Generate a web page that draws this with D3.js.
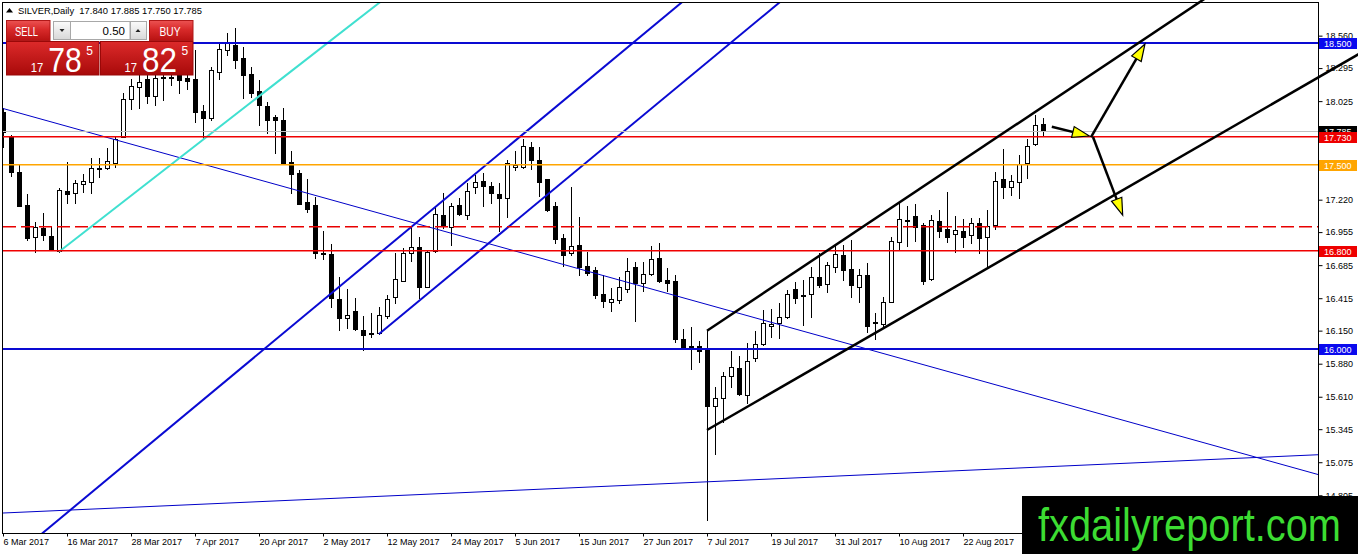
<!DOCTYPE html>
<html>
<head>
<meta charset="utf-8">
<script src="https://cdn.jsdelivr.net/npm/d3@7"></script>
<style>
body { margin:0; background:#fff; }
svg { display:block; font-family:"Liberation Sans", Arial, sans-serif; }
</style>
</head>
<body>
<div id="chart"></div>
<script>
// SILVER, Daily  (MT4 style chart)
var dates = [
 "6 Mar 2017","7 Mar 2017","8 Mar 2017","9 Mar 2017","10 Mar 2017","13 Mar 2017","14 Mar 2017","15 Mar 2017","16 Mar 2017","17 Mar 2017",
 "20 Mar 2017","21 Mar 2017","22 Mar 2017","23 Mar 2017","24 Mar 2017","27 Mar 2017","28 Mar 2017","29 Mar 2017","30 Mar 2017","31 Mar 2017",
 "3 Apr 2017","4 Apr 2017","5 Apr 2017","6 Apr 2017","7 Apr 2017","10 Apr 2017","11 Apr 2017","12 Apr 2017","13 Apr 2017","17 Apr 2017",
 "18 Apr 2017","19 Apr 2017","20 Apr 2017","21 Apr 2017","24 Apr 2017","25 Apr 2017","26 Apr 2017","27 Apr 2017","28 Apr 2017",
 "1 May 2017","2 May 2017","3 May 2017","4 May 2017","5 May 2017","8 May 2017","9 May 2017","10 May 2017","11 May 2017","12 May 2017",
 "15 May 2017","16 May 2017","17 May 2017","18 May 2017","19 May 2017","22 May 2017","23 May 2017","24 May 2017","25 May 2017","26 May 2017",
 "29 May 2017","30 May 2017","31 May 2017",
 "1 Jun 2017","2 Jun 2017","5 Jun 2017","6 Jun 2017","7 Jun 2017","8 Jun 2017","9 Jun 2017","12 Jun 2017","13 Jun 2017","14 Jun 2017",
 "15 Jun 2017","16 Jun 2017","19 Jun 2017","20 Jun 2017","21 Jun 2017","22 Jun 2017","23 Jun 2017","26 Jun 2017","27 Jun 2017","28 Jun 2017",
 "29 Jun 2017","30 Jun 2017",
 "3 Jul 2017","4 Jul 2017","5 Jul 2017","6 Jul 2017","7 Jul 2017","10 Jul 2017","11 Jul 2017","12 Jul 2017","13 Jul 2017","14 Jul 2017",
 "17 Jul 2017","18 Jul 2017","19 Jul 2017","20 Jul 2017","21 Jul 2017","24 Jul 2017","25 Jul 2017","26 Jul 2017","27 Jul 2017","28 Jul 2017",
 "31 Jul 2017",
 "1 Aug 2017","2 Aug 2017","3 Aug 2017","4 Aug 2017","7 Aug 2017","8 Aug 2017","9 Aug 2017","10 Aug 2017","11 Aug 2017","14 Aug 2017",
 "15 Aug 2017","16 Aug 2017","17 Aug 2017","18 Aug 2017","21 Aug 2017","22 Aug 2017","23 Aug 2017","24 Aug 2017","25 Aug 2017","28 Aug 2017",
 "29 Aug 2017","30 Aug 2017","31 Aug 2017",
 "1 Sep 2017","4 Sep 2017","5 Sep 2017"
];

var opens = [
 17.936,17.740,17.446,17.176,16.912,16.991,16.923,16.803,17.291,17.272,
 17.348,17.367,17.481,17.476,17.522,17.734,18.040,18.143,18.203,18.067,
 18.215,18.214,18.280,18.214,18.203,17.947,17.889,18.265,18.442,18.483,
 18.375,18.246,18.110,17.985,17.893,17.871,17.530,17.440,17.201,17.176,
 16.782,16.776,16.406,16.251,16.310,16.155,16.130,16.128,16.272,16.427,
 16.558,16.786,16.831,16.509,16.803,17.094,16.999,17.176,17.094,17.321,
 17.372,17.331,17.266,17.231,17.489,17.489,17.652,17.544,17.386,17.168,
 16.909,16.782,16.849,16.678,16.645,16.449,16.386,16.400,16.487,16.667,
 16.536,16.612,16.741,16.563,16.558,16.079,16.024,16.027,15.997,15.534,
 15.597,15.779,15.842,15.624,15.924,16.041,16.188,16.210,16.259,16.487,
 16.441,16.449,16.585,16.531,16.667,16.768,16.651,16.509,16.604,16.220,
 16.204,16.386,16.876,17.054,17.086,17.013,16.569,17.048,16.978,16.937,
 16.966,16.931,17.032,16.912,17.013,17.386,17.326,17.362,17.517,17.672,
 17.840
];
var highs = [
 17.969,17.748,17.511,17.266,17.040,17.111,17.007,17.313,17.530,17.380,
 17.429,17.563,17.558,17.639,17.740,18.089,18.203,18.238,18.252,18.279,
 18.260,18.250,18.320,18.250,18.442,17.993,18.306,18.497,18.581,18.620,
 18.469,18.306,18.197,18.015,17.911,17.966,17.620,17.462,17.391,17.244,
 16.964,16.855,16.590,16.490,16.414,16.269,16.296,16.345,16.441,16.782,
 16.827,16.999,16.917,16.803,17.168,17.272,17.195,17.231,17.353,17.421,
 17.440,17.367,17.353,17.544,17.620,17.713,17.693,17.648,17.389,17.203,
 16.937,17.321,17.076,16.795,16.672,16.604,16.496,16.590,16.746,16.713,
 16.713,16.841,16.863,16.659,16.604,16.161,16.182,16.068,16.149,15.692,
 15.814,15.986,15.942,16.046,16.149,16.318,16.324,16.373,16.482,16.550,
 16.563,16.672,16.786,16.713,16.849,16.849,16.890,16.651,16.705,16.291,
 16.427,16.917,17.190,17.168,17.184,17.027,17.094,17.136,17.285,17.086,
 17.059,17.067,17.067,17.136,17.448,17.631,17.421,17.585,17.713,17.911,
 17.885
];
var lows = [
 17.650,17.416,17.168,16.890,16.795,16.890,16.808,16.795,17.195,17.190,
 17.285,17.277,17.402,17.468,17.484,17.729,17.958,17.966,18.007,17.993,
 18.034,18.157,18.094,18.124,17.857,17.721,17.871,18.206,18.402,18.295,
 18.050,18.061,17.830,17.762,17.599,17.511,17.277,17.184,17.121,16.741,
 16.733,16.345,16.155,16.169,16.155,15.991,16.100,16.122,16.251,16.378,
 16.555,16.721,16.414,16.504,16.795,16.986,16.849,17.094,17.059,17.277,
 17.168,17.195,16.966,17.081,17.462,17.476,17.468,17.250,17.130,16.868,
 16.678,16.768,16.604,16.604,16.414,16.345,16.313,16.378,16.468,16.231,
 16.476,16.604,16.550,16.476,16.059,15.997,15.834,15.896,14.603,15.142,
 15.406,15.687,15.624,15.556,15.904,16.032,16.100,16.087,16.251,16.373,
 16.196,16.259,16.509,16.468,16.631,16.563,16.422,16.386,16.141,16.079,
 16.169,16.380,16.808,16.841,16.885,16.531,16.565,16.917,16.876,16.795,
 16.831,16.868,16.782,16.672,16.978,17.231,17.258,17.231,17.394,17.666,
 17.750
];
var closes = [
 17.773,17.448,17.170,16.907,16.994,16.931,16.812,17.299,17.264,17.353,
 17.372,17.476,17.468,17.536,17.715,18.040,18.148,18.184,18.067,18.211,
 18.222,18.220,18.200,18.192,17.938,17.884,18.279,18.448,18.510,18.361,
 18.238,18.094,17.993,17.871,17.875,17.522,17.429,17.188,17.141,16.782,
 16.773,16.414,16.251,16.277,16.161,16.114,16.122,16.277,16.408,16.569,
 16.786,16.835,16.509,16.795,17.100,17.005,17.168,17.100,17.291,17.367,
 17.334,17.272,17.236,17.517,17.503,17.658,17.544,17.367,17.132,16.898,
 16.768,16.844,16.672,16.618,16.441,16.394,16.406,16.504,16.639,16.536,
 16.612,16.733,16.558,16.541,16.079,16.018,16.016,15.986,15.534,15.597,
 15.779,15.850,15.632,15.904,16.041,16.215,16.204,16.259,16.447,16.419,
 16.429,16.590,16.523,16.686,16.776,16.645,16.523,16.604,16.188,16.212,
 16.386,16.885,17.059,17.043,16.999,16.558,17.054,16.966,16.912,16.972,
 16.917,17.027,16.904,17.005,17.372,17.326,17.372,17.509,17.658,17.830,
 17.785
];

var xTicks = ["6 Mar 2017","16 Mar 2017","28 Mar 2017","7 Apr 2017","20 Apr 2017","2 May 2017","12 May 2017",
  "24 May 2017","5 Jun 2017","15 Jun 2017","27 Jun 2017","7 Jul 2017","19 Jul 2017","31 Jul 2017","10 Aug 2017",
  "22 Aug 2017"];
var yTicks = [18.560,18.295,18.025,17.755,17.490,17.220,16.955,16.685,16.415,16.150,15.880,15.610,15.345,15.075,14.805];

// horizontal objects (prices)
var levelPrices = [18.500, 17.785, 17.730, 17.500, 16.995, 16.800, 16.000];
// trend lines: two anchors each [bar, price]
var trendFrom = [[0,14.660],[0,17.965],[5,14.499],[47,16.122],[7,16.795],[88,16.149],[88,15.338]];
var trendTo   = [[164,15.135],[161,15.036],[65,17.755],[97,18.828],[27,17.811],[118,17.457],[128,16.846]];
// hand drawn arrows [bar, price]
var arrowFrom = [[131.1,17.816],[136.0,17.732],[136.25,17.732]];
var arrowTo   = [[135.8,17.740],[142.75,18.492],[139.96,17.094]];

var W = 1358, H = 554;
var L = 3, R = 1318, T = 3, B = 533;

var svg = d3.select("#chart").append("svg").attr("width", W).attr("height", H);
svg.append("rect").attr("width", W).attr("height", H).attr("fill", "#fff");

var defs = svg.append("defs");
defs.append("clipPath").attr("id", "plotclip").append("rect")
  .attr("x", L).attr("y", T).attr("width", R - L).attr("height", B - T);
function grad(id, stops) {
  var g = defs.append("linearGradient").attr("id", id).attr("x1", 0).attr("y1", 0).attr("x2", 0).attr("y2", 1);
  stops.forEach(function(s) { g.append("stop").attr("offset", s[0]).attr("stop-color", s[1]); });
}
grad("btnRed", [[0, "#ec5252"], [0.45, "#d82a2a"], [1, "#b81212"]]);
grad("priceRed", [[0, "#dc2a2a"], [1, "#a80a0a"]]);
grad("btnGray", [[0, "#fbfbfb"], [1, "#d8d8d8"]]);

var x = d3.scaleLinear().domain([0, 130]).range([3, 1043]);
var y = d3.scaleLinear().domain([16.0, 18.5]).range([349, 43]);

var candles = dates.map(function(d, i) {
  return {i: i, date: d, o: opens[i], h: highs[i], l: lows[i], c: closes[i]};
});

var plot = svg.append("g").attr("clip-path", "url(#plotclip)");

var cg = plot.selectAll("g.candle").data(candles).enter().append("g").attr("class", "candle");
cg.append("line")
  .attr("x1", function(d) { return Math.round(x(d.i)) + 0.5; })
  .attr("x2", function(d) { return Math.round(x(d.i)) + 0.5; })
  .attr("y1", function(d) { return Math.round(y(d.h)); })
  .attr("y2", function(d) { return Math.round(y(d.l)) + 1; })
  .attr("stroke", "#000");
cg.append("rect")
  .attr("x", function(d) { return Math.round(x(d.i)) - 1.5; })
  .attr("y", function(d) { return Math.round(y(Math.max(d.o, d.c))) + 0.5; })
  .attr("width", 4)
  .attr("height", function(d) {
    return Math.max(0.01, Math.round(y(Math.min(d.o, d.c))) - Math.round(y(Math.max(d.o, d.c))));
  })
  .attr("fill", function(d) { return d.c >= d.o ? "#fff" : "#000"; })
  .attr("stroke", "#000");

// trend lines
var trendStyle = [
  {c: "#0000c8", w: 1, ray: false}, {c: "#0000c8", w: 1, ray: false},
  {c: "#0a0ad2", w: 2, ray: false}, {c: "#0a0ad2", w: 2, ray: true},
  {c: "#40e0d0", w: 2, ray: true},
  {c: "#000", w: 2.5, ray: true}, {c: "#000", w: 2.5, ray: true}
];
function priceAt(k, i) {
  var a = trendFrom[k], b = trendTo[k];
  return a[1] + (b[1] - a[1]) * (i - a[0]) / (b[0] - a[0]);
}
var blackG = svg.append("g");
trendFrom.forEach(function(a, k) {
  var s = trendStyle[k];
  var i0 = s.ray ? a[0] : -10, i1 = 200;
  var target = k >= 5 ? blackG : plot;
  target.append("line")
    .attr("x1", x(i0)).attr("y1", y(priceAt(k, i0)))
    .attr("x2", x(i1)).attr("y2", y(priceAt(k, i1)))
    .attr("stroke", s.c).attr("stroke-width", s.w);
});

// horizontal levels
var levelStyle = [
  {c: "#0a0ad2", w: 2, box: "#0a0aee"},
  {c: "#c0c0c0", w: 1, box: "#000"},
  {c: "#f00000", w: 1.5, box: "#ee0000"},
  {c: "#ffa500", w: 1.5, box: "#ffa500"},
  {c: "#e80000", w: 1.5, box: null, dash: "13,5"},
  {c: "#f00000", w: 1.5, box: "#ee0000"},
  {c: "#0a0ad2", w: 2, box: "#0a0aee"}
];
levelPrices.forEach(function(p, k) {
  var s = levelStyle[k];
  var yy = Math.round(y(p));
  if (s.w === 1) yy += 0.5;
  else if (s.w === 1.5) yy = yy - (yy % 2) + 0.75;   // keep thin coloured lines on one pixel pair
  plot.append("line").attr("x1", L).attr("x2", R).attr("y1", yy).attr("y2", yy)
    .attr("stroke", s.c).attr("stroke-width", s.w).attr("stroke-dasharray", s.dash || null);
});

// frame
svg.append("rect").attr("x", L - 0.5).attr("y", T - 0.5).attr("width", R - L + 1).attr("height", B - T + 1)
  .attr("fill", "none").attr("stroke", "#000");

// price axis
var yAxis = d3.axisRight(y).tickValues(yTicks).tickSize(4).tickPadding(3).tickFormat(d3.format(".3f"));
svg.append("g").attr("transform", "translate(" + (R + 0.5) + ",0)").call(yAxis)
  .call(function(g) {
    g.select(".domain").remove();
    g.attr("font-size", 9).attr("font-family", "'Liberation Sans', Arial, sans-serif");
    g.selectAll("text").attr("fill", "#000");
  });

// price boxes
var boxes = svg.append("g");
levelPrices.forEach(function(p, k) {
  var s = levelStyle[k];
  if (!s.box) return;
  var yy = Math.round(y(p));
  boxes.append("rect").attr("x", R + 1).attr("y", yy - 5).attr("width", 38).attr("height", 11).attr("fill", s.box);
  boxes.append("text").attr("x", R + 6).attr("y", yy + 4).attr("font-size", 9)
    .attr("fill", "#fff").text(d3.format(".3f")(p));
});

// time axis
var tickIdx = xTicks.map(function(t) { return dates.indexOf(t); });
var xAxis = d3.axisBottom(x).tickValues(tickIdx).tickSize(3).tickPadding(2).tickFormat(function(i) { return dates[i]; });
svg.append("g").attr("transform", "translate(0," + (B + 0.5) + ")").call(xAxis)
  .call(function(g) {
    g.select(".domain").remove();
    g.attr("font-size", 9).attr("font-family", "'Liberation Sans', Arial, sans-serif");
    g.selectAll("text").attr("text-anchor", "start").attr("x", 0).attr("fill", "#000");
  });

// arrows
var arrows = svg.append("g");
arrowFrom.forEach(function(a, k) {
  var b = arrowTo[k];
  var x1 = x(a[0]), y1 = y(a[1]), x2 = x(b[0]), y2 = y(b[1]);
  var dx = x2 - x1, dy = y2 - y1, len = Math.sqrt(dx * dx + dy * dy);
  var ux = dx / len, uy = dy / len;
  var hl = 17, hw = 5.5;
  arrows.append("line").attr("x1", x1).attr("y1", y1).attr("x2", x2 - ux * 8).attr("y2", y2 - uy * 8)
    .attr("stroke", "#000").attr("stroke-width", 2.5);
  var bx = x2 - ux * hl, by = y2 - uy * hl;
  var pts = [[x2, y2], [bx - uy * hw, by + ux * hw], [bx + uy * hw, by - ux * hw]];
  arrows.append("polygon").attr("points", pts.map(function(p) { return p.join(","); }).join(" "))
    .attr("fill", "#ffff00").attr("stroke", "#000").attr("stroke-width", 1.2);
});

// watermark
svg.append("rect").attr("x", 1022).attr("y", 496).attr("width", W - 1022).attr("height", H - 496).attr("fill", "#000");
svg.append("text").attr("x", 1038).attr("y", 541).attr("font-size", 46)
  .attr("textLength", 303).attr("lengthAdjust", "spacingAndGlyphs")
  .attr("fill", "#3cdc32").text("fxdailyreport.com");

// header
svg.append("path").attr("d", "M6,12.5 L9.5,8 L13,12.5 Z").attr("fill", "#000");
svg.append("text").attr("x", 18).attr("y", 14).attr("font-size", 9.5).style("white-space", "pre")
  .attr("textLength", 184).attr("lengthAdjust", "spacingAndGlyphs")
  .text("SILVER,Daily  " + [opens[130], highs[130], lows[130], closes[130]].map(d3.format(".3f")).join(" "));

// one click trading panel
var pn = svg.append("g");
pn.append("rect").attr("x", 6.5).attr("y", 20.5).attr("width", 43.5).attr("height", 20).attr("fill", "url(#btnRed)").attr("stroke", "#b01818");
pn.append("rect").attr("x", 149.5).attr("y", 20.5).attr("width", 43.5).attr("height", 20).attr("fill", "url(#btnRed)").attr("stroke", "#b01818");
pn.append("text").attr("x", 15).attr("y", 36).attr("font-size", 13).attr("fill", "#fff")
  .attr("textLength", 23).attr("lengthAdjust", "spacingAndGlyphs").text("SELL");
pn.append("text").attr("x", 159.5).attr("y", 36).attr("font-size", 13).attr("fill", "#fff")
  .attr("textLength", 21).attr("lengthAdjust", "spacingAndGlyphs").text("BUY");
pn.append("rect").attr("x", 53.5).attr("y", 21.5).attr("width", 17).attr("height", 18).attr("fill", "url(#btnGray)").attr("stroke", "#a8a8a8");
pn.append("rect").attr("x", 70.5).attr("y", 21.5).attr("width", 59.5).attr("height", 18).attr("fill", "#fff").attr("stroke", "#a8a8a8");
pn.append("rect").attr("x", 130.5).attr("y", 21.5).attr("width", 16).attr("height", 18).attr("fill", "url(#btnGray)").attr("stroke", "#a8a8a8");
pn.append("path").attr("d", "M59.5,29 L64.5,29 L62,32 Z").attr("fill", "#222");
pn.append("path").attr("d", "M135.5,32 L140.5,32 L138,29 Z").attr("fill", "#222");
pn.append("text").attr("x", 125).attr("y", 35).attr("font-size", 11.5).attr("text-anchor", "end").attr("fill", "#000").text("0.50");

pn.append("rect").attr("x", 6.5).attr("y", 41.5).attr("width", 92.5).attr("height", 33.5).attr("fill", "url(#priceRed)").attr("stroke", "#9a0808");
pn.append("rect").attr("x", 100.5).attr("y", 41.5).attr("width", 92.5).attr("height", 33.5).attr("fill", "url(#priceRed)").attr("stroke", "#9a0808");
function bigPrice(x0, big, pxBig) {
  pn.append("text").attr("x", x0).attr("y", 71.5).attr("font-size", 12.5).attr("fill", "#fff")
    .attr("textLength", 12.5).attr("lengthAdjust", "spacingAndGlyphs").text("17");
  pn.append("text").attr("x", x0 + 17.5).attr("y", 71.5).attr("font-size", 35).attr("fill", "#fff")
    .attr("textLength", pxBig).attr("lengthAdjust", "spacingAndGlyphs").text(big);
  pn.append("text").attr("x", x0 + 17.5 + pxBig + 4.5).attr("y", 55).attr("font-size", 12).attr("fill", "#fff").text("5");
}
bigPrice(30.7, "78", 33.5);
bigPrice(124.5, "82", 35);
</script>
</body>
</html>
